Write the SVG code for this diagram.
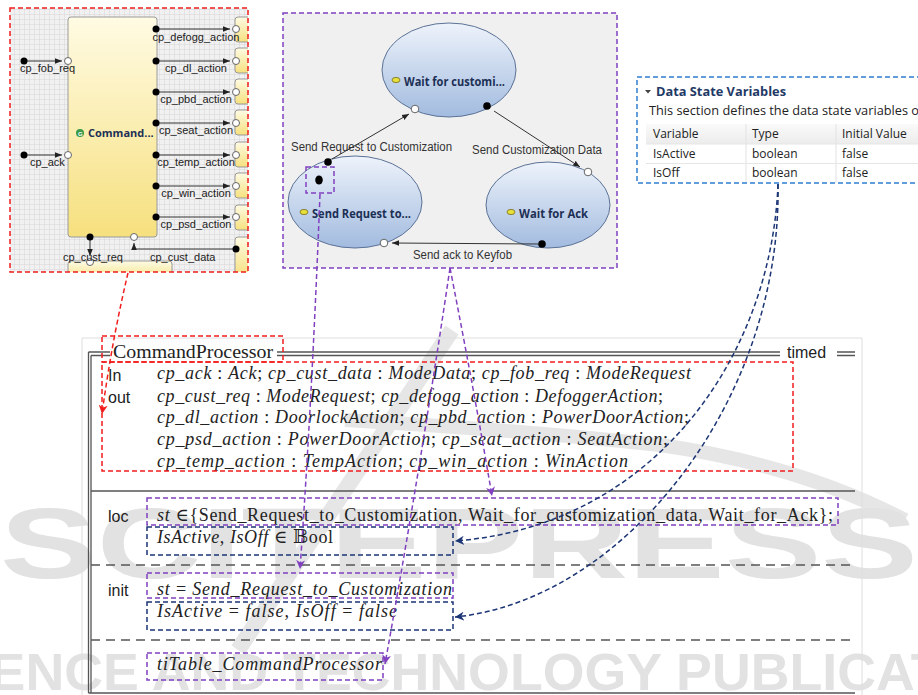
<svg xmlns="http://www.w3.org/2000/svg" width="918" height="695" viewBox="0 0 918 695">
<defs>
<style>
.red{fill:none;stroke:#f21d1d;stroke-width:1.5;stroke-dasharray:5,3}
.pur{fill:none;stroke:#8040c0;stroke-width:1.5;stroke-dasharray:5,3}
.nav{fill:none;stroke:#1c3575;stroke-width:1.5;stroke-dasharray:5,3}
.port{fill:#fff;stroke:#666;stroke-width:1}
.dot{fill:#000}
.wire{fill:none;stroke:#333;stroke-width:1}
.lbl{font-family:"Liberation Sans","DejaVu Sans",sans-serif;font-size:11px;fill:#222}
.tl{font-family:"Liberation Sans","DejaVu Sans",sans-serif;font-size:12px;fill:#333}
.st{font-family:"Open Sans","Liberation Sans",sans-serif;font-size:13px;font-weight:bold;fill:#1c2f55}
.ic{fill:#e6e03a;stroke:#7a6a1a;stroke-width:0.8}
.dv{font-family:"Open Sans","Liberation Sans",sans-serif;font-size:12px;fill:#222}
.m{font-family:"Liberation Serif","DejaVu Serif",serif;font-size:18px;fill:#222}
.i{font-style:italic}
.kw{font-family:"Liberation Sans","DejaVu Sans",sans-serif;font-size:16px;fill:#222}
.zl{stroke:#555;stroke-width:1.3;fill:none}
.wm{font-family:"Liberation Sans","DejaVu Sans",sans-serif;font-weight:bold;fill:#dddddd}
</style>
<pattern id="grid" width="5" height="5" patternUnits="userSpaceOnUse">
<rect width="5" height="5" fill="#f1f1f1"/>
<path d="M4.7,0 V5 M0,4.7 H5" stroke="#d3d3d3" stroke-width="0.6" fill="none"/>
</pattern>
<linearGradient id="yel" x1="0" y1="0" x2="0" y2="1">
<stop offset="0" stop-color="#fffbe4"/><stop offset="1" stop-color="#f6e07e"/>
</linearGradient>
<linearGradient id="blu" x1="0" y1="0" x2="0" y2="1">
<stop offset="0" stop-color="#eef3fb"/><stop offset="1" stop-color="#a2bbdf"/>
</linearGradient>
<linearGradient id="hdr" x1="0" y1="0" x2="0" y2="1">
<stop offset="0" stop-color="#fafafa"/><stop offset="1" stop-color="#ececec"/>
</linearGradient>
<clipPath id="lclip"><rect x="10" y="8" width="238" height="264"/></clipPath>
<marker id="ab" viewBox="0 0 10 10" refX="10" refY="5" markerWidth="7" markerHeight="7" orient="auto"><path d="M0,1 L10,5 L0,9 z" fill="#222"/></marker>
<marker id="ar" viewBox="0 0 10 10" refX="10" refY="5" markerWidth="6" markerHeight="6" orient="auto"><path d="M0,0 L10,5 L0,10 L3,5 z" fill="#f21d1d"/></marker>
<marker id="ap" viewBox="0 0 10 10" refX="10" refY="5" markerWidth="6" markerHeight="6" orient="auto"><path d="M0,0 L10,5 L0,10 L3,5 z" fill="#8040c0"/></marker>
<marker id="an" viewBox="0 0 10 10" refX="10" refY="5" markerWidth="6" markerHeight="6" orient="auto"><path d="M0,0 L10,5 L0,10 L3,5 z" fill="#1c3575"/></marker>
</defs>

<rect width="918" height="695" fill="#fff"/>

<!-- watermark -->
<g id="watermark" opacity="0.85">
<path d="M452,330 L238,650" stroke="#e2e2e2" stroke-width="16" fill="none"/>
<path d="M345,420 Q520,430 660,445 Q800,465 905,520" stroke="#e2e2e2" stroke-width="14" fill="none"/>
<text class="wm" x="0" y="578" font-size="100" textLength="918" lengthAdjust="spacingAndGlyphs">SCITEPRESS</text>
<text class="wm" x="-100" y="690" font-size="52" textLength="1175" lengthAdjust="spacingAndGlyphs">SCIENCE AND TECHNOLOGY PUBLICATIONS</text>
</g>

<!-- page border of the schema -->
<path d="M82,695 V338 H862 V695" stroke="#dedede" stroke-width="1" fill="none"/>

<!-- Left panel: CommandProcessor component -->
<g id="component-panel">
<rect x="10" y="8" width="238" height="264" fill="url(#grid)"/>
<g clip-path="url(#lclip)">
<rect x="235" y="17" width="22" height="25" rx="3" fill="url(#yel)" stroke="#999"/>
<rect x="235" y="48" width="22" height="25" rx="3" fill="url(#yel)" stroke="#999"/>
<rect x="235" y="79" width="22" height="25" rx="3" fill="url(#yel)" stroke="#999"/>
<rect x="235" y="110" width="22" height="25" rx="3" fill="url(#yel)" stroke="#999"/>
<rect x="235" y="142" width="22" height="25" rx="3" fill="url(#yel)" stroke="#999"/>
<rect x="235" y="173" width="22" height="25" rx="3" fill="url(#yel)" stroke="#999"/>
<rect x="235" y="205" width="22" height="25" rx="3" fill="url(#yel)" stroke="#999"/>
<rect x="235" y="237" width="22" height="40" rx="3" fill="url(#yel)" stroke="#999"/>
<rect x="68" y="261" width="104" height="20" rx="3" fill="url(#yel)" stroke="#999"/>
</g>
<rect x="68" y="17" width="89" height="220" rx="3" fill="url(#yel)" stroke="#9a9a9a"/>
<circle cx="80" cy="133" r="4" fill="#3a9a4a"/>
<text x="78" y="135.5" font-family="Liberation Sans,sans-serif" font-size="6" fill="#fff" font-weight="bold">G</text>
<text x="88" y="137" font-family="Open Sans,Liberation Sans,sans-serif" font-size="11px" font-weight="bold" fill="#1c2f55">Command...</text>

<path class="wire" d="M24,61 H62" marker-end="url(#ab)"/>
<circle class="dot" cx="24" cy="61" r="3.5"/><circle class="port" cx="68" cy="61" r="3.5"/>
<text class="lbl" x="20" y="72">cp_fob_req</text>
<path class="wire" d="M24,155 H62" marker-end="url(#ab)"/>
<circle class="dot" cx="24" cy="155" r="3.5"/><circle class="port" cx="68" cy="155" r="3.5"/>
<text class="lbl" x="30" y="166">cp_ack</text>

<path class="wire" d="M156,29 H230" marker-end="url(#ab)"/>
<path class="wire" d="M156,61 H230" marker-end="url(#ab)"/>
<path class="wire" d="M156,92 H230" marker-end="url(#ab)"/>
<path class="wire" d="M156,123 H230" marker-end="url(#ab)"/>
<path class="wire" d="M156,155 H230" marker-end="url(#ab)"/>
<path class="wire" d="M156,186 H230" marker-end="url(#ab)"/>
<path class="wire" d="M156,217 H230" marker-end="url(#ab)"/>
<circle class="dot" cx="156" cy="29" r="3.5"/><circle class="port" cx="236" cy="29" r="3.5"/>
<circle class="dot" cx="156" cy="61" r="3.5"/><circle class="port" cx="236" cy="61" r="3.5"/>
<circle class="dot" cx="156" cy="92" r="3.5"/><circle class="port" cx="236" cy="92" r="3.5"/>
<circle class="dot" cx="156" cy="123" r="3.5"/><circle class="port" cx="236" cy="123" r="3.5"/>
<circle class="dot" cx="156" cy="155" r="3.5"/><circle class="port" cx="236" cy="155" r="3.5"/>
<circle class="dot" cx="156" cy="186" r="3.5"/><circle class="port" cx="236" cy="186" r="3.5"/>
<circle class="dot" cx="156" cy="217" r="3.5"/><circle class="port" cx="236" cy="217" r="3.5"/>
<text class="lbl" x="196" y="41" text-anchor="middle">cp_defogg_action</text>
<text class="lbl" x="196" y="72" text-anchor="middle">cp_dl_action</text>
<text class="lbl" x="196" y="103" text-anchor="middle">cp_pbd_action</text>
<text class="lbl" x="196" y="134" text-anchor="middle">cp_seat_action</text>
<text class="lbl" x="196" y="166" text-anchor="middle">cp_temp_action</text>
<text class="lbl" x="196" y="197" text-anchor="middle">cp_win_action</text>
<text class="lbl" x="196" y="228" text-anchor="middle">cp_psd_action</text>

<path class="wire" d="M90,237 V256" marker-end="url(#ab)"/>
<circle class="dot" cx="90" cy="237" r="3.5"/><circle class="port" cx="90" cy="262" r="3.5"/>
<text class="lbl" x="63" y="261">cp_cust_req</text>
<path class="wire" d="M236,249 H134 V243" marker-end="url(#ab)"/>
<circle class="port" cx="134" cy="237" r="3.5"/><circle class="dot" cx="236" cy="249" r="3.5"/>
<text class="lbl" x="150" y="261">cp_cust_data</text>
<rect class="red" x="10" y="8" width="238" height="264"/>
</g>

<!-- Middle panel: state machine -->
<g id="statemachine-panel">
<rect x="283" y="13" width="334" height="255" fill="#f0f0f0"/>
<g id="state-wait-cust">
<ellipse cx="449" cy="70" rx="67" ry="47" fill="url(#blu)" stroke="#5b7296"/>
<ellipse class="ic" cx="396" cy="80" rx="4" ry="2.6"/>
<text class="st" x="404" y="86" textLength="101" lengthAdjust="spacingAndGlyphs">Wait for customi...</text>
</g>
<g id="state-send-req">
<ellipse cx="355" cy="202" rx="67" ry="46" fill="url(#blu)" stroke="#5b7296"/>
<ellipse class="ic" cx="304" cy="212" rx="4" ry="2.6"/>
<text class="st" x="312" y="218" textLength="99" lengthAdjust="spacingAndGlyphs">Send Request to...</text>
</g>
<g id="state-wait-ack">
<ellipse cx="548" cy="205" rx="62" ry="43" fill="url(#blu)" stroke="#5b7296"/>
<ellipse class="ic" cx="511" cy="212" rx="4" ry="2.6"/>
<text class="st" x="519" y="218" textLength="69" lengthAdjust="spacingAndGlyphs">Wait for Ack</text>
</g>
<g id="transitions">
<path class="wire" d="M332,159 L409,114" marker-end="url(#ab)"/>
<path class="wire" d="M494,111 L580,167" marker-end="url(#ab)"/>
<path class="wire" d="M538,244 L392,243" marker-end="url(#ab)"/>
<circle class="dot" cx="328" cy="162" r="3.8"/>
<circle class="port" cx="415" cy="109" r="3.8"/>
<circle class="dot" cx="487" cy="106" r="3.8"/>
<circle class="port" cx="588" cy="172" r="3.8"/>
<circle class="dot" cx="542" cy="244" r="3.8"/>
<circle class="port" cx="384" cy="243" r="3.8"/>
<ellipse class="dot" cx="319" cy="180" rx="3.8" ry="4.5"/>
<text class="tl" x="291" y="151" textLength="161" lengthAdjust="spacingAndGlyphs">Send Request to Customization</text>
<text class="tl" x="472" y="154" textLength="130" lengthAdjust="spacingAndGlyphs">Send Customization Data</text>
<text class="tl" x="413" y="259" textLength="99" lengthAdjust="spacingAndGlyphs">Send ack to Keyfob</text>
</g>
<rect class="pur" x="306" y="167" width="28" height="26"/>
<rect class="pur" x="283" y="13" width="334" height="255"/>
</g>

<!-- Right panel: data state variables -->
<g id="datavars-panel">
<rect x="637" y="77" width="290" height="106" fill="#fff"/>
<path d="M645,90 h6 l-3,3.5 z" fill="#444"/>
<text x="656" y="96" font-family="Open Sans,Liberation Sans,sans-serif" font-size="12.5px" font-weight="bold" fill="#1f3a66" textLength="130" lengthAdjust="spacingAndGlyphs">Data State Variables</text>
<text class="dv" x="649" y="115" textLength="270" lengthAdjust="spacingAndGlyphs">This section defines the data state variables o</text>
<rect x="646" y="124" width="280" height="20" fill="url(#hdr)"/>
<path d="M746,124 V183 M836,124 V183" stroke="#e2e2e2"/>
<path d="M646,144 H918 M646,163.5 H918" stroke="#e6e6e6"/>
<text class="dv" x="653" y="138">Variable</text>
<text class="dv" x="752" y="138">Type</text>
<text class="dv" x="842" y="138">Initial Value</text>
<text class="dv" x="653" y="158">IsActive</text>
<text class="dv" x="752" y="158">boolean</text>
<text class="dv" x="842" y="158">false</text>
<text class="dv" x="653" y="177">IsOff</text>
<text class="dv" x="752" y="177">boolean</text>
<text class="dv" x="842" y="177">false</text>
<rect x="637" y="77" width="290" height="106" fill="none" stroke="#2f7fd0" stroke-width="1.5" stroke-dasharray="5,3"/>
</g>

<!-- Z schema -->
<g id="schema">
<path class="zl" d="M88.5,352 H110 M91,355.5 H110 M277,352 H780 M277,355.5 H780 M837,352 H855 M837,355.5 H855"/>
<path class="zl" d="M88.5,352 V693 M91,355.5 V693 M88.5,693 H855"/>
<path class="zl" d="M91,491 H855"/>
<path class="zl" d="M91,565 H855 M91,640 H855" stroke-dasharray="9,6"/>
<text class="m" x="113" y="358" textLength="160" lengthAdjust="spacingAndGlyphs">CommandProcessor</text>
<text class="kw" x="787" y="358">timed</text>
<text class="kw" x="108" y="381">In</text>
<text class="kw" x="108" y="403">out</text>
<text class="kw" x="108" y="522">loc</text>
<text class="kw" x="108" y="596">init</text>
<text class="m" x="157" y="379" textLength="534" lengthAdjust="spacing"><tspan class="i">cp_ack</tspan> : <tspan class="i">Ack</tspan>;  <tspan class="i">cp_cust_data</tspan> : <tspan class="i">ModeData</tspan>;  <tspan class="i">cp_fob_req</tspan> : <tspan class="i">ModeRequest</tspan></text>
<text class="m" x="157" y="402" textLength="506" lengthAdjust="spacing"><tspan class="i">cp_cust_req</tspan> : <tspan class="i">ModeRequest</tspan>;  <tspan class="i">cp_defogg_action</tspan> : <tspan class="i">DefoggerAction</tspan>;</text>
<text class="m" x="157" y="423" textLength="532" lengthAdjust="spacing"><tspan class="i">cp_dl_action</tspan> : <tspan class="i">DoorlockAction</tspan>;  <tspan class="i">cp_pbd_action</tspan> : <tspan class="i">PowerDoorAction</tspan>;</text>
<text class="m" x="157" y="445" textLength="511" lengthAdjust="spacing"><tspan class="i">cp_psd_action</tspan> : <tspan class="i">PowerDoorAction</tspan>;  <tspan class="i">cp_seat_action</tspan> : <tspan class="i">SeatAction</tspan>;</text>
<text class="m" x="157" y="467" textLength="471" lengthAdjust="spacing"><tspan class="i">cp_temp_action</tspan> : <tspan class="i">TempAction</tspan>;  <tspan class="i">cp_win_action</tspan> : <tspan class="i">WinAction</tspan></text>
<text class="m" x="157" y="521" textLength="676" lengthAdjust="spacing"><tspan class="i">st</tspan> ∈{Send_Request_to_Customization, Wait_for_customization_data, Wait_for_Ack};</text>
<text class="m" x="157" y="543" textLength="176" lengthAdjust="spacing"><tspan class="i">IsActive</tspan>, <tspan class="i">IsOff</tspan> ∈ 𝔹ool</text>
<text class="m" x="157" y="595" textLength="295" lengthAdjust="spacing"><tspan class="i">st</tspan> = <tspan class="i">Send_Request_to_Customization</tspan></text>
<text class="m" x="157" y="617" textLength="240" lengthAdjust="spacing"><tspan class="i">IsActive</tspan> = <tspan class="i">false</tspan>, <tspan class="i">IsOff</tspan> = <tspan class="i">false</tspan></text>
<text class="m i" x="157" y="670" textLength="225" lengthAdjust="spacing">tiTable_CommandProcessor</text>
</g>

<!-- highlight boxes -->
<g id="highlights">
<rect class="red" x="102" y="336" width="181" height="26"/>
<rect class="red" x="102" y="362" width="691" height="109"/>
<rect class="pur" x="147" y="498" width="691" height="27"/>
<rect class="nav" x="147" y="527" width="306" height="28"/>
<rect class="pur" x="147" y="573" width="306" height="25"/>
<rect class="nav" x="147" y="602" width="306" height="28"/>
<rect class="pur" x="147" y="653" width="236" height="27"/>
</g>

<!-- connectors -->
<g id="connectors">
<path class="red" d="M128,273 Q112,340 102,414" marker-end="url(#ar)"/>
<path class="pur" d="M320,194 Q312,400 300,569" marker-end="url(#ap)"/>
<path class="pur" d="M450,268 Q474,390 492,496" marker-end="url(#ap)"/>
<path class="pur" d="M450,268 Q420,470 385,664" marker-end="url(#ap)"/>
<path class="nav" d="M778,184 C772,350 660,525 455,541" marker-end="url(#an)"/>
<path class="nav" d="M778,184 C782,400 625,600 455,617" marker-end="url(#an)"/>
</g>
</svg>
